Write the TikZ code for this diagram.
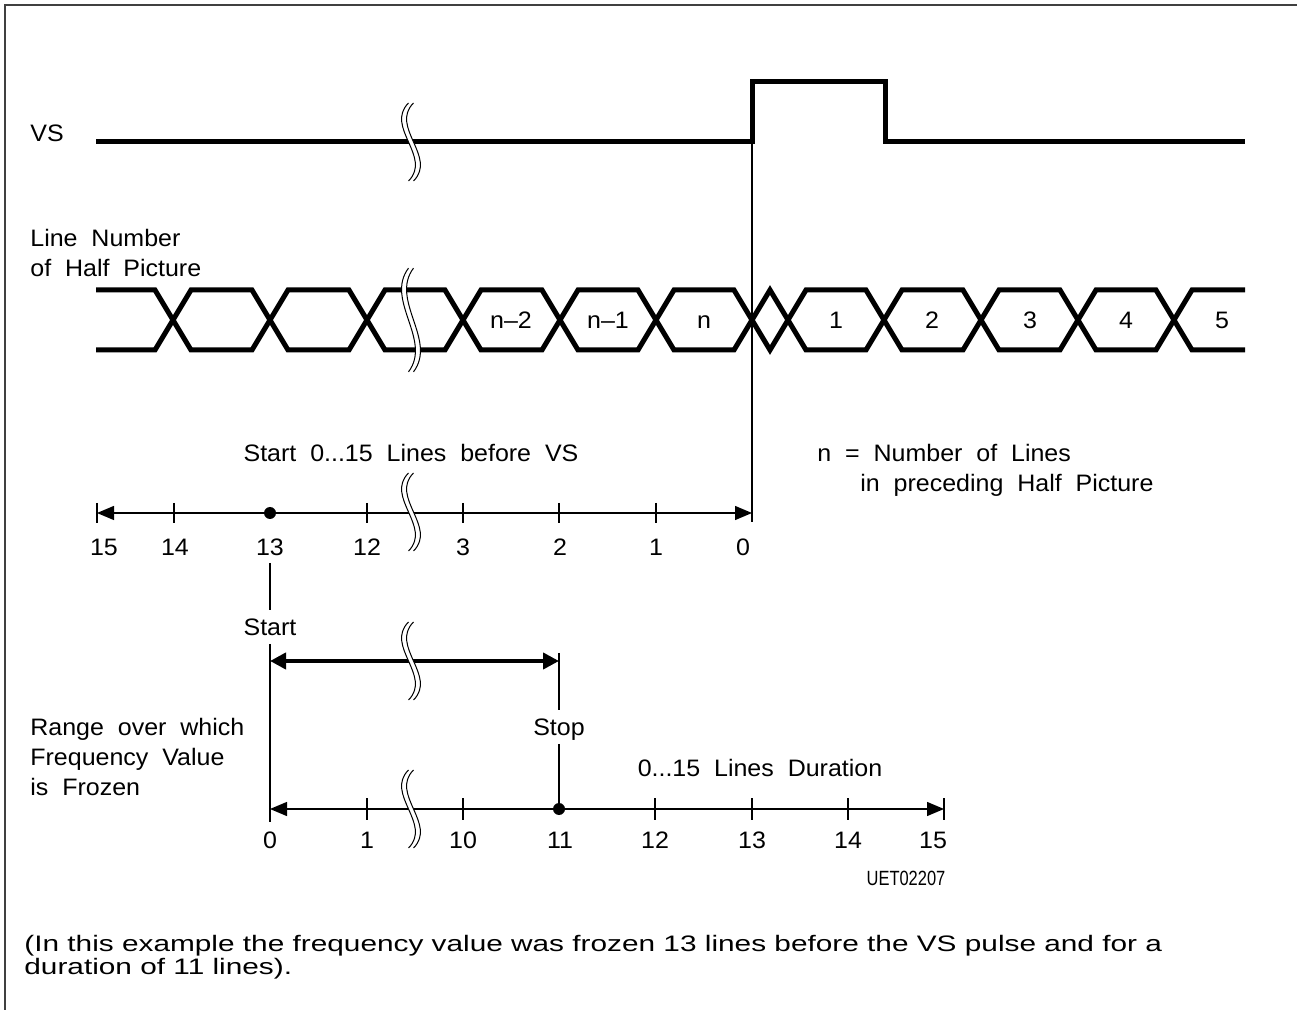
\documentclass[tikz,border=0pt]{standalone}
\usepackage{fontspec}
\setmainfont{Liberation Sans}
\newfontfamily\cadfont[FakeStretch=1.05,WordSpace=2]{Liberation Sans}
\newfontfamily\capfont[FakeStretch=1.33]{Liberation Sans}
\newfontfamily\idfont[FakeStretch=0.8]{Liberation Sans}
\usetikzlibrary{arrows.meta}

\begin{document}
\begin{tikzpicture}[x=0.5pt, y=-0.5pt,
  sig/.style={line width=2.5pt},
  hair/.style={line width=0.6pt},
  axisline/.style={line width=0.65pt},
  >={Triangle[length=8.5pt,width=7pt]},
  spanarrow/.style={line width=2.2pt, >={Triangle[length=8pt,width=8pt]}, <->},
  lbl/.style={font=\cadfont\fontsize{11.9}{15}\selectfont, inner sep=0pt, text height=8.5pt, text depth=0pt},
  txt/.style={font=\cadfont\fontsize{11.9}{15}\selectfont, inner sep=0pt, align=left, anchor=north west},
  gaplbl/.style={lbl, inner ysep=4pt},
  dotmark/.style={circle, fill, inner sep=0pt, minimum size=6pt},
  brk/.pic={
    \fill[white] (-2.5,-39) .. controls (-26.5,-15) and (21.5,15) .. (-2.5,39) -- (2.5,39) .. controls (26.5,15) and (-21.5,-15) .. (2.5,-39) -- cycle;
    \draw[line width=0.5pt] (-2.5,-39) .. controls (-26.5,-15) and (21.5,15) .. (-2.5,39);
    \draw[line width=0.5pt] (2.5,-39) .. controls (-21.5,-15) and (26.5,15) .. (2.5,39);
  }]
  \useasboundingbox (0,0) rectangle (1297,1010);
  \draw[line width=0.8pt, black!75] (5,1010) -- (5,5) -- (1297,5);

  % VS pulse
  \node[lbl, anchor=west] (vs) at (30,133) {VS};
  \draw[sig] (96,142) -- (752,142) -- (752,82) -- (885,82) -- (885,142) -- (1245,142);
  \coordinate (vsup) at (752,142);
  \coordinate (mark) at (752,522);
  \draw[hair] (vsup) -- (mark);

  % line number bus
  \node[txt] (lnum) at (30,229) {Line Number\\of Half Picture};
  \draw[sig] (96,290) \foreach \c/\ya in {173/290,270/350,367/290,463/350,560/290,656/350,752/290,788/350,884/290,981/350,1078/290,1174/350} { -- (\c-18,\ya) -- (\c+18,640-\ya) } -- (1245,290);
  \draw[sig] (96,350) \foreach \c/\ya in {173/290,270/350,367/290,463/350,560/290,656/350,752/290,788/350,884/290,981/350,1078/290,1174/350} { -- (\c-18,640-\ya) -- (\c+18,\ya) } -- (1245,350);
  \foreach \x/\t in {511/n\textendash2,608/n\textendash1,704/n,836/1,932/2,1030/3,1126/4,1222/5}
    \node[lbl] at (\x,320) {\t};

  % start scale
  \node[lbl] (before) at (411,453) {Start 0...15 Lines before VS};
  \node[txt] (nnote) at (817,444) {n = Number of Lines\\\hspace*{21.5pt}in preceding Half Picture};
  \coordinate (a15) at (97,513);
  \coordinate (a0) at (752,513);
  \draw[axisline, <->] (a15) -- (a0);
  \foreach \x in {97,174,367,463,559,656}
    \draw[axisline] (\x,503) -- (\x,523);
  \node[dotmark] (d13) at (270,513) {};
  \foreach \x/\t in {104/15,175/14,270/13,367/12,463/3,560/2,656/1,743/0}
    \node[lbl] (u\t) at (\x,547) {\t};

  % frozen range
  \node[gaplbl] (start) at (270,627) {Start};
  \node[gaplbl] (stop) at (559,727) {Stop};
  \coordinate (sfoot) at (270,822);
  \coordinate (stoptop) at (559,653);
  \draw[hair, shorten <=3.5pt] (u13.south) -- (start.north);
  \draw[hair] (start.south) -- (sfoot);
  \coordinate (rs) at (270,661);
  \coordinate (re) at (559,661);
  \draw[spanarrow] (rs) -- (re);
  \node[txt] (frozen) at (30,718) {Range over which\\Frequency Value\\is Frozen};

  % duration scale
  \node[lbl] (dur) at (760,768) {0...15 Lines Duration};
  \coordinate (b0) at (270,809);
  \coordinate (b15) at (944,809);
  \draw[axisline, <->] (b0) -- (b15);
  \draw[line width=1pt] (411,809) -- (582,809);
  \foreach \x in {367,463,655,752,848,944}
    \draw[axisline] (\x,798) -- (\x,820);
  \node[dotmark] (d11) at (559,809) {};
  \draw[hair] (stoptop) -- (stop.north);
  \draw[hair] (stop.south) -- (d11.center);
  \foreach \x/\t in {270/0,367/1,463/10,560/11,655/12,752/13,848/14,933/15}
    \node[lbl] (v\t) at (\x,840) {\t};
  \node[font=\idfont\fontsize{10.3}{12}\selectfont, inner sep=0pt, text height=7.35pt, text depth=0pt] (id) at (906,878) {UET02207};

  % breaks
  \pic at (411,142) {brk};
  \pic[yscale=1.33] at (411,320) {brk};
  \pic at (411,512) {brk};
  \pic at (411,661) {brk};
  \pic at (411,809) {brk};

  \node[font=\capfont\fontsize{11.2}{11.5}\selectfont, inner sep=0pt, align=left, anchor=north west] (cap) at (24,935) {(In this example the frequency value was frozen 13 lines before the VS pulse and for a\\duration of 11 lines).};
\end{tikzpicture}
\end{document}
